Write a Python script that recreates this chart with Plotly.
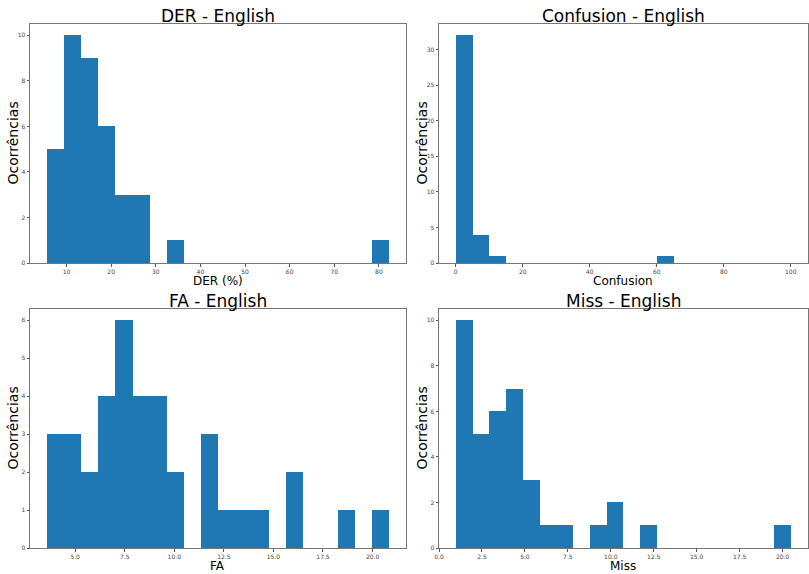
import plotly.graph_objects as go

# ---- data (histogram bin counts) ----
der_counts = [5, 10, 9, 6, 3, 3, 0, 1, 0, 0, 0, 0, 0, 0, 0, 0, 0, 0, 0, 1]
der_bin_start = 5.64
der_bin_width = 3.83

conf_counts = [32, 4, 1, 0, 0, 0, 0, 0, 0, 0, 0, 0, 1, 0, 0, 0, 0, 0, 0, 0]
conf_bin_start = 0.0
conf_bin_width = 5.0

fa_counts = [3, 3, 2, 4, 6, 4, 4, 2, 0, 3, 1, 1, 1, 0, 2, 0, 0, 1, 0, 1]
fa_bin_start = 3.585
fa_bin_width = 0.862

miss_counts = [10, 5, 6, 7, 3, 1, 1, 0, 1, 2, 0, 1, 0, 0, 0, 0, 0, 0, 0, 1]
miss_bin_start = 0.975
miss_bin_width = 0.975

titles = ["DER - English", "Confusion - English", "FA - English", "Miss - English"]
xlabels = ["DER (%)", "Confusion", "FA", "Miss"]
ylabel = "Ocorrências"

W, H = 809, 574
FONT = "DejaVu Sans"
BLUE = "#1f77b4"

panels = [
    (der_counts, der_bin_start, der_bin_width),
    (conf_counts, conf_bin_start, conf_bin_width),
    (fa_counts, fa_bin_start, fa_bin_width),
    (miss_counts, miss_bin_start, miss_bin_width),
]

# pixel boxes (left, right, top, bottom)
boxes = [(30, 406, 24, 263), (439, 807.5, 24, 263), (30, 406, 309, 548), (439, 807.5, 309, 548)]

xtick_cfg = [
    dict(tickvals=[10, 20, 30, 40, 50, 60, 70, 80], tickformat="d"),
    dict(tickvals=[0, 20, 40, 60, 80, 100], tickformat="d"),
    dict(tickvals=[5, 7.5, 10, 12.5, 15, 17.5, 20], tickformat=".1f"),
    dict(tickvals=[0, 2.5, 5, 7.5, 10, 12.5, 15, 17.5, 20], tickformat=".1f"),
]
ytick_cfg = [
    [0, 2, 4, 6, 8, 10],
    [0, 5, 10, 15, 20, 25, 30],
    [0, 1, 2, 3, 4, 5, 6],
    [0, 2, 4, 6, 8, 10],
]

fig = go.Figure()
layout = dict(
    width=W, height=H, margin=dict(l=0, r=0, t=0, b=0, autoexpand=False),
    paper_bgcolor="white", plot_bgcolor="white", showlegend=False,
    bargap=0, font=dict(family=FONT, color="#000"),
)
annotations = []

for i, ((counts, start, width), (l, r, t, b)) in enumerate(zip(panels, boxes)):
    n = i + 1
    xa = "x" if n == 1 else f"x{n}"
    ya = "y" if n == 1 else f"y{n}"
    centers = [start + width * (k + 0.5) for k in range(len(counts))]
    fig.add_trace(go.Bar(x=centers, y=counts, width=[width] * len(counts),
                         marker=dict(color=BLUE, line=dict(width=0)),
                         xaxis=xa, yaxis=ya, hoverinfo="x+y"))
    xr = [start - width, start + width * (len(counts) + 1)]
    ymax = max(counts) * 1.05
    common = dict(showgrid=False, zeroline=False, showline=True, mirror=True,
                  linecolor="#777", linewidth=1, ticks="outside", ticklen=2.5,
                  tickwidth=0.8, tickcolor="#555", automargin=False,
                  tickfont=dict(size=6, color="#444", family=FONT))
    layout["xaxis" if n == 1 else f"xaxis{n}"] = dict(
        domain=[l / W, r / W], range=xr, anchor=ya, tickmode="array", **xtick_cfg[i], **common)
    layout["yaxis" if n == 1 else f"yaxis{n}"] = dict(
        domain=[1 - b / H, 1 - t / H], range=[0, ymax], anchor=xa, tickmode="array",
        tickvals=ytick_cfg[i], **common)
    cx = (l + r) / 2
    annotations.append(dict(text=titles[i], x=cx / W, y=1 - (t - 8) / H, xref="paper", yref="paper",
                            xanchor="center", yanchor="middle", showarrow=False,
                            font=dict(size=17, family=FONT, color="#000")))
    annotations.append(dict(text=xlabels[i], x=cx / W, y=1 - (b + 18) / H, xref="paper", yref="paper",
                            xanchor="center", yanchor="middle", showarrow=False, borderpad=0,
                            font=dict(size=12, family=FONT, color="#000")))
    annotations.append(dict(text=ylabel, x=(l - 18) / W, y=1 - (t + b) / 2 / H, xref="paper", yref="paper",
                            xanchor="center", yanchor="middle", textangle=-90, showarrow=False,
                            font=dict(size=14, family=FONT, color="#000")))

layout["annotations"] = annotations
fig.update_layout(**layout)
fig.write_html("out.html")
